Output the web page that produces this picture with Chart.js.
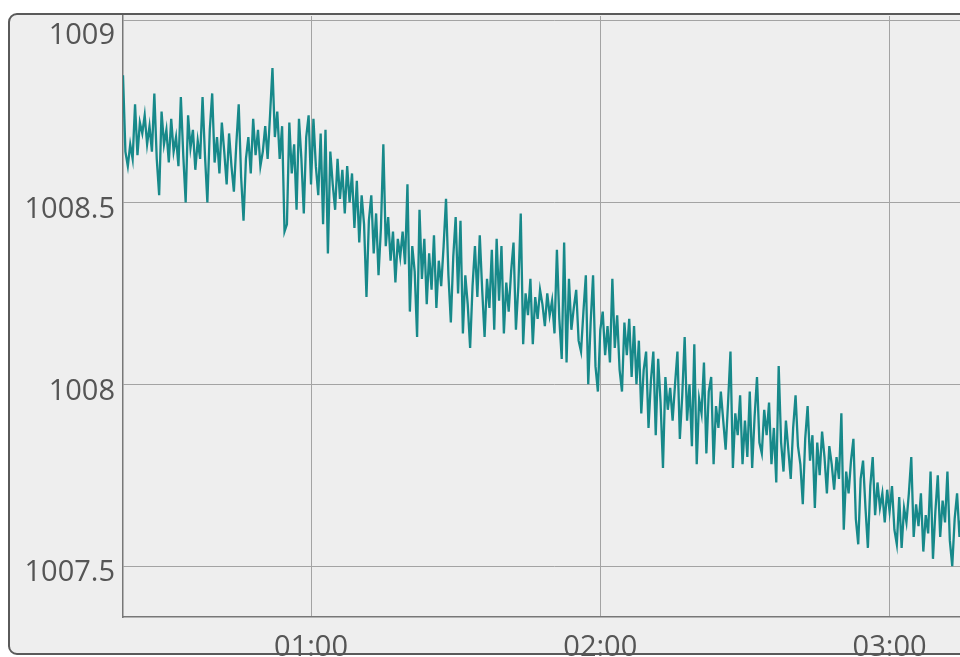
<!DOCTYPE html>
<html>
<head>
<meta charset="utf-8">
<script src="https://cdn.jsdelivr.net/npm/chart.js@4.4.1/dist/chart.umd.min.js"></script>
<style>
  html, body { margin: 0; padding: 0; background: #fff; overflow: hidden; width: 960px; height: 657px; }
  #panel { position: absolute; left: 8px; top: 13px; width: 1100px; height: 638px; border: 2px solid #5a5a5a; border-radius: 9px; background: #eeeeee; }
  #chart { position: absolute; left: 0; top: 0; }
</style>
</head>
<body>
<div id="panel"></div>
<canvas id="chart" width="990" height="657"></canvas>
<script>
// samples every 30 s starting 00:21
const startMinute = 21;
const stepMinutes = 0.5;

const pressure = [
  1008.85, 1008.64, 1008.60, 1008.66, 1008.62, 1008.77, 1008.63, 1008.72, 1008.69, 1008.74,
  1008.66, 1008.71, 1008.64, 1008.80, 1008.62, 1008.52, 1008.75, 1008.66, 1008.70, 1008.61,
  1008.73, 1008.64, 1008.68, 1008.60, 1008.79, 1008.63, 1008.50, 1008.74, 1008.65, 1008.70,
  1008.59, 1008.67, 1008.62, 1008.79, 1008.63, 1008.50, 1008.70, 1008.80, 1008.61, 1008.68,
  1008.58, 1008.72, 1008.64, 1008.55, 1008.69, 1008.60, 1008.53, 1008.66, 1008.77, 1008.57,
  1008.45, 1008.62, 1008.68, 1008.58, 1008.73, 1008.63, 1008.70, 1008.60, 1008.64, 1008.71,
  1008.62, 1008.74, 1008.87, 1008.68, 1008.75, 1008.62, 1008.71, 1008.42, 1008.44, 1008.72,
  1008.58, 1008.66, 1008.48, 1008.73, 1008.62, 1008.47, 1008.68, 1008.74, 1008.55, 1008.73,
  1008.60, 1008.52, 1008.69, 1008.44, 1008.70, 1008.36, 1008.64, 1008.55, 1008.48, 1008.62,
  1008.51, 1008.59, 1008.47, 1008.60, 1008.50, 1008.58, 1008.43, 1008.56, 1008.39, 1008.52,
  1008.44, 1008.24, 1008.45, 1008.52, 1008.36, 1008.47, 1008.30, 1008.43, 1008.66, 1008.38,
  1008.46, 1008.34, 1008.42, 1008.28, 1008.40, 1008.35, 1008.42, 1008.33, 1008.55, 1008.20,
  1008.38, 1008.31, 1008.13, 1008.48, 1008.29, 1008.40, 1008.22, 1008.36, 1008.26, 1008.41,
  1008.21, 1008.34, 1008.27, 1008.38, 1008.51, 1008.30, 1008.17, 1008.35, 1008.46, 1008.25,
  1008.45, 1008.14, 1008.30, 1008.22, 1008.10, 1008.27, 1008.38, 1008.24, 1008.41, 1008.26,
  1008.13, 1008.29, 1008.21, 1008.37, 1008.15, 1008.40, 1008.23, 1008.38, 1008.14, 1008.28,
  1008.20, 1008.31, 1008.39, 1008.15, 1008.27, 1008.47, 1008.11, 1008.25, 1008.19, 1008.29,
  1008.11, 1008.24, 1008.18, 1008.26, 1008.22, 1008.16, 1008.25, 1008.19, 1008.23, 1008.14,
  1008.37, 1008.18, 1008.07, 1008.39, 1008.06, 1008.29, 1008.15, 1008.21, 1008.26, 1008.12,
  1008.09, 1008.20, 1008.30, 1008.00, 1008.17, 1008.30, 1008.05, 1007.98, 1008.15, 1008.20,
  1008.08, 1008.16, 1008.06, 1008.29, 1008.10, 1008.19, 1008.04, 1007.98, 1008.17, 1008.08,
  1008.18, 1008.02, 1008.16, 1008.00, 1008.12, 1007.92, 1008.04, 1008.09, 1007.88, 1008.01,
  1008.09, 1007.86, 1008.07, 1007.95, 1007.77, 1008.02, 1007.93, 1007.99, 1007.90, 1008.00,
  1008.09, 1007.85, 1007.97, 1008.13, 1007.90, 1008.00, 1007.83, 1008.11, 1007.78, 1007.96,
  1007.92, 1008.06, 1007.81, 1007.98, 1008.02, 1007.78, 1007.94, 1007.88, 1007.98, 1007.90,
  1007.82, 1007.95, 1008.09, 1007.77, 1007.92, 1007.86, 1007.97, 1007.78, 1007.90, 1007.80,
  1007.98, 1007.77, 1007.91, 1008.02, 1007.84, 1007.81, 1007.93, 1007.86, 1007.95, 1007.78,
  1007.88, 1007.73, 1008.05, 1007.84, 1007.76, 1007.90, 1007.82, 1007.74, 1007.88, 1007.97,
  1007.83, 1007.78, 1007.67, 1007.85, 1007.94, 1007.79, 1007.86, 1007.66, 1007.84, 1007.75,
  1007.87, 1007.80, 1007.70, 1007.83, 1007.78, 1007.71, 1007.80, 1007.74, 1007.92, 1007.60,
  1007.76, 1007.70, 1007.79, 1007.85, 1007.63, 1007.56, 1007.74, 1007.79, 1007.66, 1007.55,
  1007.72, 1007.80, 1007.64, 1007.73, 1007.66, 1007.70, 1007.62, 1007.71, 1007.65, 1007.72,
  1007.60, 1007.56, 1007.69, 1007.55, 1007.66, 1007.62, 1007.70, 1007.80, 1007.58, 1007.67,
  1007.61, 1007.70, 1007.54, 1007.64, 1007.59, 1007.76, 1007.52, 1007.65, 1007.75, 1007.58,
  1007.68, 1007.62, 1007.76, 1007.57, 1007.50, 1007.63, 1007.70, 1007.58, 1007.65
];

const xTicks = [60, 120, 180];          // minutes since midnight
const yTicks = [1007.5, 1008, 1008.5, 1009];

const points = pressure.map((v, i) => ({ x: startMinute + i * stepMinutes, y: v }));

function hhmm(min) {
  const h = Math.floor(min / 60), m = Math.round(min % 60);
  return String(h).padStart(2, '0') + ':' + String(m).padStart(2, '0');
}

// y labels sit a little under their grid line, top one kept inside the plot
const yLabels = {
  id: 'yLabels',
  afterDraw(chart) {
    const { ctx, chartArea, scales: { y } } = chart;
    ctx.save();
    ctx.font = '29px "Open Sans"';
    ctx.fillStyle = '#555';
    ctx.textAlign = 'right';
    ctx.textBaseline = 'middle';
    yTicks.forEach(v => {
      const py = Math.max(y.getPixelForValue(v) + 7, chartArea.top + 20);
      ctx.fillText(String(v), 115, py);
    });
    ctx.restore();
  }
};

new Chart(document.getElementById('chart'), {
  type: 'line',
  data: {
    datasets: [{
      data: points,
      borderColor: '#17898a',
      borderWidth: 2.3,
      pointRadius: 0,
      tension: 0,
      fill: false
    }]
  },
  options: {
    responsive: false,
    animation: false,
    events: [],
    layout: { padding: { top: 16, right: 4, left: 0, bottom: 0 } },
    plugins: { legend: { display: false }, tooltip: { enabled: false } },
    scales: {
      x: {
        type: 'linear',
        min: 21,
        max: 200,
        afterBuildTicks: s => { s.ticks = xTicks.map(v => ({ value: v })); },
        afterFit: s => { s.height = 40; },
        ticks: {
          autoSkip: false,
          maxRotation: 0,
          padding: 13,
          color: '#555',
          font: { family: 'Open Sans', size: 29 },
          callback: v => hhmm(v)
        },
        grid: { color: '#a3a3a3', lineWidth: 1, drawTicks: false },
        border: { display: true, color: '#777', width: 1.5 }
      },
      y: {
        min: 1007.36,
        max: 1009.013,
        afterBuildTicks: s => { s.ticks = yTicks.map(v => ({ value: v })); },
        afterFit: s => { s.width = 123; },
        ticks: { display: false },
        grid: { color: '#a3a3a3', lineWidth: 1, drawTicks: false },
        border: { display: true, color: '#777', width: 1.5 }
      }
    }
  },
  plugins: [yLabels]
});
</script>
</body>
</html>
